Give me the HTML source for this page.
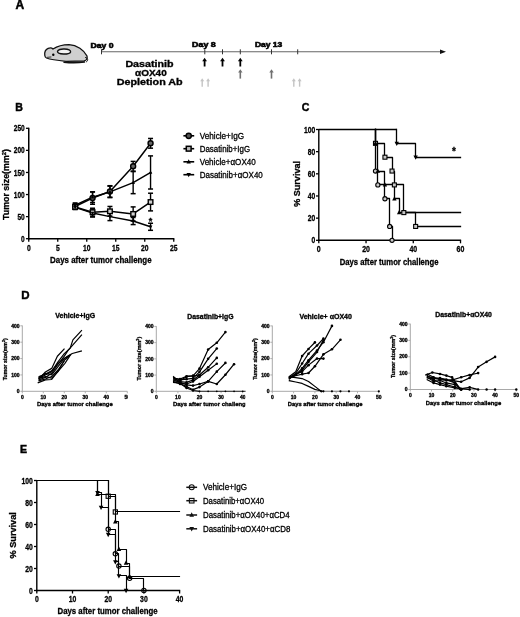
<!DOCTYPE html><html><head><meta charset="utf-8"><style>html,body{margin:0;padding:0;background:#fff;overflow:hidden;}svg{display:block;}text{font-family:"Liberation Sans", sans-serif;}</style></head><body>
<svg width="520" height="617" viewBox="0 0 520 617" style="filter:blur(0.3px)">
<rect width="520" height="617" fill="#fff"/>
<text x="15.6" y="9" font-size="12" font-weight="bold" text-anchor="start" fill="#000" stroke="#000" stroke-width="0.5">A</text>
<g stroke="#111" stroke-width="1.3" stroke-linejoin="round" stroke-linecap="round"><path d="M44.8,55.5 C44.3,52.5 45.8,49.6 48.2,48.4 C50.2,47.5 52,48 53,49 C57.5,46 63,44.6 69,44.6 C77,45 84,50 87,56 C87.6,58.5 86.5,60.5 84,61 L66,61.3 C58,60.5 50.5,59.5 46.5,58 C45.3,57.4 44.9,56.5 44.8,55.5 Z" fill="#cfcfcf"/><path d="M57.5,51.6 C57.5,49.6 61,48.8 64.5,49 C68.5,49.2 70.8,50.3 70.6,51.8 C70.4,53.3 67,54 63.5,54 C60,54 57.5,53.3 57.5,51.6 Z" fill="#f4f4f4" stroke-width="1.4"/><path d="M64,62.2 C71,62.9 78,62.9 84.5,62" fill="none" stroke-width="1.4"/><path d="M85.5,57.5 C88,57.8 88.6,60.5 86.5,61.8" fill="none" stroke-width="1"/><path d="M47.5,57.3 L51,57" fill="none" stroke-width="0.8"/></g>
<circle cx="53.3" cy="54.8" r="1.2" fill="#000"/>
<text x="90.6" y="47.7" font-size="6.4" font-weight="bold" textLength="23" lengthAdjust="spacingAndGlyphs" stroke="#000" stroke-width="0.5">Day 0</text>
<text x="192.1" y="47.4" font-size="6.4" font-weight="bold" textLength="23.7" lengthAdjust="spacingAndGlyphs" stroke="#000" stroke-width="0.5">Day 8</text>
<text x="254.9" y="47.4" font-size="6.4" font-weight="bold" textLength="27.4" lengthAdjust="spacingAndGlyphs" stroke="#000" stroke-width="0.5">Day 13</text>
<line x1="101.5" y1="51.8" x2="442" y2="51.8" stroke="#666" stroke-width="1.1"/>
<polygon points="446,51.8 440,49.6 440,54" fill="#111"/>
<line x1="101.5" y1="49.3" x2="101.5" y2="54.3" stroke="#333" stroke-width="1"/>
<line x1="204.8" y1="49.3" x2="204.8" y2="54.3" stroke="#333" stroke-width="1"/>
<line x1="222.5" y1="49.3" x2="222.5" y2="54.3" stroke="#333" stroke-width="1"/>
<line x1="240.3" y1="49.3" x2="240.3" y2="54.3" stroke="#333" stroke-width="1"/>
<line x1="271.5" y1="49.3" x2="271.5" y2="54.3" stroke="#333" stroke-width="1"/>
<line x1="297.7" y1="49.3" x2="297.7" y2="54.3" stroke="#333" stroke-width="1"/>
<line x1="204.6" y1="60.58" x2="204.6" y2="66.5" stroke="#000" stroke-width="1.8"/>
<polygon points="204.6,57.7 202.2,61.3 207,61.3" fill="#000"/>
<line x1="222.5" y1="60.58" x2="222.5" y2="66.5" stroke="#000" stroke-width="1.8"/>
<polygon points="222.5,57.7 220.1,61.3 224.9,61.3" fill="#000"/>
<line x1="240.3" y1="60.58" x2="240.3" y2="66.5" stroke="#000" stroke-width="1.8"/>
<polygon points="240.3,57.7 237.9,61.3 242.7,61.3" fill="#000"/>
<line x1="240.3" y1="71.94" x2="240.3" y2="78.6" stroke="#707070" stroke-width="1.6"/>
<polygon points="240.3,69.3 238.1,72.6 242.5,72.6" fill="#707070"/>
<line x1="271.5" y1="71.94" x2="271.5" y2="78.6" stroke="#707070" stroke-width="1.6"/>
<polygon points="271.5,69.3 269.3,72.6 273.7,72.6" fill="#707070"/>
<line x1="202.2" y1="80.6" x2="202.2" y2="86.7" stroke="#c4c4c4" stroke-width="1.4"/>
<polygon points="202.2,78.2 200.2,81.2 204.2,81.2" fill="#c4c4c4"/>
<line x1="208.1" y1="80.6" x2="208.1" y2="86.7" stroke="#c4c4c4" stroke-width="1.4"/>
<polygon points="208.1,78.2 206.1,81.2 210.1,81.2" fill="#c4c4c4"/>
<line x1="293.8" y1="80.6" x2="293.8" y2="86.7" stroke="#c4c4c4" stroke-width="1.4"/>
<polygon points="293.8,78.2 291.8,81.2 295.8,81.2" fill="#c4c4c4"/>
<line x1="299.6" y1="80.6" x2="299.6" y2="86.7" stroke="#c4c4c4" stroke-width="1.4"/>
<polygon points="299.6,78.2 297.6,81.2 301.6,81.2" fill="#c4c4c4"/>
<text x="125.4" y="66.9" font-size="8.5" font-weight="bold" text-anchor="start" fill="#000" textLength="48.1" lengthAdjust="spacingAndGlyphs" stroke="#000" stroke-width="0.3">Dasatinib</text>
<text x="135" y="76.3" font-size="8.5" font-weight="bold" text-anchor="start" fill="#000" textLength="31.7" lengthAdjust="spacingAndGlyphs" stroke="#000" stroke-width="0.3">αOX40</text>
<text x="116.7" y="84.6" font-size="8.5" font-weight="bold" text-anchor="start" fill="#000" textLength="66" lengthAdjust="spacingAndGlyphs" stroke="#000" stroke-width="0.3">Depletion Ab</text>
<text x="15.2" y="111.3" font-size="10.6" font-weight="bold" text-anchor="start" fill="#000" stroke="#000" stroke-width="0.45">B</text>
<line x1="28.75" y1="127.7" x2="28.75" y2="239.45" stroke="#000" stroke-width="1.5"/>
<line x1="28" y1="238.7" x2="174.35" y2="238.7" stroke="#000" stroke-width="1.5"/>
<line x1="25.95" y1="238.7" x2="28.75" y2="238.7" stroke="#000" stroke-width="1.3"/>
<text x="24.75" y="241.8" font-size="8.6" font-weight="bold" text-anchor="end" fill="#000" textLength="3.65" lengthAdjust="spacingAndGlyphs" stroke="#000" stroke-width="0.3">0</text>
<line x1="25.95" y1="216.62" x2="28.75" y2="216.62" stroke="#000" stroke-width="1.3"/>
<text x="24.75" y="219.72" font-size="8.6" font-weight="bold" text-anchor="end" fill="#000" textLength="7.3" lengthAdjust="spacingAndGlyphs" stroke="#000" stroke-width="0.3">50</text>
<line x1="25.95" y1="194.54" x2="28.75" y2="194.54" stroke="#000" stroke-width="1.3"/>
<text x="24.75" y="197.64" font-size="8.6" font-weight="bold" text-anchor="end" fill="#000" textLength="10.95" lengthAdjust="spacingAndGlyphs" stroke="#000" stroke-width="0.3">100</text>
<line x1="25.95" y1="172.46" x2="28.75" y2="172.46" stroke="#000" stroke-width="1.3"/>
<text x="24.75" y="175.56" font-size="8.6" font-weight="bold" text-anchor="end" fill="#000" textLength="10.95" lengthAdjust="spacingAndGlyphs" stroke="#000" stroke-width="0.3">150</text>
<line x1="25.95" y1="150.38" x2="28.75" y2="150.38" stroke="#000" stroke-width="1.3"/>
<text x="24.75" y="153.48" font-size="8.6" font-weight="bold" text-anchor="end" fill="#000" textLength="10.95" lengthAdjust="spacingAndGlyphs" stroke="#000" stroke-width="0.3">200</text>
<line x1="25.95" y1="128.3" x2="28.75" y2="128.3" stroke="#000" stroke-width="1.3"/>
<text x="24.75" y="131.4" font-size="8.6" font-weight="bold" text-anchor="end" fill="#000" textLength="10.95" lengthAdjust="spacingAndGlyphs" stroke="#000" stroke-width="0.3">250</text>
<line x1="28.75" y1="238.7" x2="28.75" y2="241.7" stroke="#000" stroke-width="1.3"/>
<text x="28.75" y="250.5" font-size="8.6" font-weight="bold" text-anchor="middle" fill="#000" textLength="3.75" lengthAdjust="spacingAndGlyphs" stroke="#000" stroke-width="0.3">0</text>
<line x1="57.75" y1="238.7" x2="57.75" y2="241.7" stroke="#000" stroke-width="1.3"/>
<text x="57.75" y="250.5" font-size="8.6" font-weight="bold" text-anchor="middle" fill="#000" textLength="3.75" lengthAdjust="spacingAndGlyphs" stroke="#000" stroke-width="0.3">5</text>
<line x1="86.75" y1="238.7" x2="86.75" y2="241.7" stroke="#000" stroke-width="1.3"/>
<text x="86.75" y="250.5" font-size="8.6" font-weight="bold" text-anchor="middle" fill="#000" textLength="7.5" lengthAdjust="spacingAndGlyphs" stroke="#000" stroke-width="0.3">10</text>
<line x1="115.75" y1="238.7" x2="115.75" y2="241.7" stroke="#000" stroke-width="1.3"/>
<text x="115.75" y="250.5" font-size="8.6" font-weight="bold" text-anchor="middle" fill="#000" textLength="7.5" lengthAdjust="spacingAndGlyphs" stroke="#000" stroke-width="0.3">15</text>
<line x1="144.75" y1="238.7" x2="144.75" y2="241.7" stroke="#000" stroke-width="1.3"/>
<text x="144.75" y="250.5" font-size="8.6" font-weight="bold" text-anchor="middle" fill="#000" textLength="7.5" lengthAdjust="spacingAndGlyphs" stroke="#000" stroke-width="0.3">20</text>
<line x1="173.75" y1="238.7" x2="173.75" y2="241.7" stroke="#000" stroke-width="1.3"/>
<text x="173.75" y="250.5" font-size="8.6" font-weight="bold" text-anchor="middle" fill="#000" textLength="7.5" lengthAdjust="spacingAndGlyphs" stroke="#000" stroke-width="0.3">25</text>
<text x="50.1" y="263" font-size="9.2" font-weight="bold" text-anchor="start" fill="#000" textLength="101.5" lengthAdjust="spacingAndGlyphs" stroke="#000" stroke-width="0.3">Days after tumor challenge</text>
<text transform="translate(8.6,184.5) rotate(-90)" font-size="8.4" font-weight="bold" text-anchor="middle" textLength="71" lengthAdjust="spacingAndGlyphs" stroke="#000" stroke-width="0.3">Tumor size(mm<tspan dy="-3" font-size="5.5">2</tspan><tspan dy="3">)</tspan></text>
<polyline points="75.15,206.46 92.55,198.07 109.95,191.45 133.15,166.28 150.55,143.31" fill="none" stroke="#000" stroke-width="1.5" stroke-linejoin="round" stroke-linecap="square"/>
<polyline points="75.15,206.9 92.55,212.2 109.95,211.32 133.15,213.97 150.55,202.05" fill="none" stroke="#000" stroke-width="1.5" stroke-linejoin="round" stroke-linecap="square"/>
<polyline points="75.15,205.14 92.55,197.19 109.95,191.89 133.15,182.62 150.55,172.46" fill="none" stroke="#000" stroke-width="1.5" stroke-linejoin="round" stroke-linecap="square"/>
<polyline points="75.15,207.35 92.55,213.09 109.95,216.62 133.15,221.04 150.55,226.78" fill="none" stroke="#000" stroke-width="1.5" stroke-linejoin="round" stroke-linecap="square"/>
<line x1="75.15" y1="203.81" x2="75.15" y2="209.11" stroke="#000" stroke-width="1.4"/>
<line x1="72.65" y1="203.81" x2="77.65" y2="203.81" stroke="#000" stroke-width="1.5"/>
<line x1="72.65" y1="209.11" x2="77.65" y2="209.11" stroke="#000" stroke-width="1.5"/>
<line x1="92.55" y1="191.89" x2="92.55" y2="204.26" stroke="#000" stroke-width="1.4"/>
<line x1="90.05" y1="191.89" x2="95.05" y2="191.89" stroke="#000" stroke-width="1.5"/>
<line x1="90.05" y1="204.26" x2="95.05" y2="204.26" stroke="#000" stroke-width="1.5"/>
<line x1="109.95" y1="185.71" x2="109.95" y2="197.19" stroke="#000" stroke-width="1.4"/>
<line x1="107.45" y1="185.71" x2="112.45" y2="185.71" stroke="#000" stroke-width="1.5"/>
<line x1="107.45" y1="197.19" x2="112.45" y2="197.19" stroke="#000" stroke-width="1.5"/>
<line x1="133.15" y1="161.42" x2="133.15" y2="171.14" stroke="#000" stroke-width="1.4"/>
<line x1="130.65" y1="161.42" x2="135.65" y2="161.42" stroke="#000" stroke-width="1.5"/>
<line x1="130.65" y1="171.14" x2="135.65" y2="171.14" stroke="#000" stroke-width="1.5"/>
<line x1="150.55" y1="138.46" x2="150.55" y2="148.17" stroke="#000" stroke-width="1.4"/>
<line x1="148.05" y1="138.46" x2="153.05" y2="138.46" stroke="#000" stroke-width="1.5"/>
<line x1="148.05" y1="148.17" x2="153.05" y2="148.17" stroke="#000" stroke-width="1.5"/>
<line x1="75.15" y1="204.7" x2="75.15" y2="209.11" stroke="#000" stroke-width="1.4"/>
<line x1="72.65" y1="204.7" x2="77.65" y2="204.7" stroke="#000" stroke-width="1.5"/>
<line x1="72.65" y1="209.11" x2="77.65" y2="209.11" stroke="#000" stroke-width="1.5"/>
<line x1="92.55" y1="208.23" x2="92.55" y2="216.18" stroke="#000" stroke-width="1.4"/>
<line x1="90.05" y1="208.23" x2="95.05" y2="208.23" stroke="#000" stroke-width="1.5"/>
<line x1="90.05" y1="216.18" x2="95.05" y2="216.18" stroke="#000" stroke-width="1.5"/>
<line x1="109.95" y1="206.46" x2="109.95" y2="216.18" stroke="#000" stroke-width="1.4"/>
<line x1="107.45" y1="206.46" x2="112.45" y2="206.46" stroke="#000" stroke-width="1.5"/>
<line x1="107.45" y1="216.18" x2="112.45" y2="216.18" stroke="#000" stroke-width="1.5"/>
<line x1="133.15" y1="206.9" x2="133.15" y2="221.04" stroke="#000" stroke-width="1.4"/>
<line x1="130.65" y1="206.9" x2="135.65" y2="206.9" stroke="#000" stroke-width="1.5"/>
<line x1="130.65" y1="221.04" x2="135.65" y2="221.04" stroke="#000" stroke-width="1.5"/>
<line x1="150.55" y1="193.22" x2="150.55" y2="210.88" stroke="#000" stroke-width="1.4"/>
<line x1="148.05" y1="193.22" x2="153.05" y2="193.22" stroke="#000" stroke-width="1.5"/>
<line x1="148.05" y1="210.88" x2="153.05" y2="210.88" stroke="#000" stroke-width="1.5"/>
<line x1="75.15" y1="202.93" x2="75.15" y2="207.35" stroke="#000" stroke-width="1.4"/>
<line x1="72.65" y1="202.93" x2="77.65" y2="202.93" stroke="#000" stroke-width="1.5"/>
<line x1="72.65" y1="207.35" x2="77.65" y2="207.35" stroke="#000" stroke-width="1.5"/>
<line x1="92.55" y1="191.89" x2="92.55" y2="202.49" stroke="#000" stroke-width="1.4"/>
<line x1="90.05" y1="191.89" x2="95.05" y2="191.89" stroke="#000" stroke-width="1.5"/>
<line x1="90.05" y1="202.49" x2="95.05" y2="202.49" stroke="#000" stroke-width="1.5"/>
<line x1="109.95" y1="186.15" x2="109.95" y2="197.63" stroke="#000" stroke-width="1.4"/>
<line x1="107.45" y1="186.15" x2="112.45" y2="186.15" stroke="#000" stroke-width="1.5"/>
<line x1="107.45" y1="197.63" x2="112.45" y2="197.63" stroke="#000" stroke-width="1.5"/>
<line x1="133.15" y1="171.58" x2="133.15" y2="193.66" stroke="#000" stroke-width="1.4"/>
<line x1="130.65" y1="171.58" x2="135.65" y2="171.58" stroke="#000" stroke-width="1.5"/>
<line x1="130.65" y1="193.66" x2="135.65" y2="193.66" stroke="#000" stroke-width="1.5"/>
<line x1="150.55" y1="155.9" x2="150.55" y2="189.02" stroke="#000" stroke-width="1.4"/>
<line x1="148.05" y1="155.9" x2="153.05" y2="155.9" stroke="#000" stroke-width="1.5"/>
<line x1="148.05" y1="189.02" x2="153.05" y2="189.02" stroke="#000" stroke-width="1.5"/>
<line x1="75.15" y1="205.14" x2="75.15" y2="209.55" stroke="#000" stroke-width="1.4"/>
<line x1="72.65" y1="205.14" x2="77.65" y2="205.14" stroke="#000" stroke-width="1.5"/>
<line x1="72.65" y1="209.55" x2="77.65" y2="209.55" stroke="#000" stroke-width="1.5"/>
<line x1="92.55" y1="209.11" x2="92.55" y2="217.06" stroke="#000" stroke-width="1.4"/>
<line x1="90.05" y1="209.11" x2="95.05" y2="209.11" stroke="#000" stroke-width="1.5"/>
<line x1="90.05" y1="217.06" x2="95.05" y2="217.06" stroke="#000" stroke-width="1.5"/>
<line x1="109.95" y1="212.65" x2="109.95" y2="220.59" stroke="#000" stroke-width="1.4"/>
<line x1="107.45" y1="212.65" x2="112.45" y2="212.65" stroke="#000" stroke-width="1.5"/>
<line x1="107.45" y1="220.59" x2="112.45" y2="220.59" stroke="#000" stroke-width="1.5"/>
<line x1="133.15" y1="217.5" x2="133.15" y2="224.57" stroke="#000" stroke-width="1.4"/>
<line x1="130.65" y1="217.5" x2="135.65" y2="217.5" stroke="#000" stroke-width="1.5"/>
<line x1="130.65" y1="224.57" x2="135.65" y2="224.57" stroke="#000" stroke-width="1.5"/>
<line x1="150.55" y1="223.24" x2="150.55" y2="230.31" stroke="#000" stroke-width="1.4"/>
<line x1="148.05" y1="223.24" x2="153.05" y2="223.24" stroke="#000" stroke-width="1.5"/>
<line x1="148.05" y1="230.31" x2="153.05" y2="230.31" stroke="#000" stroke-width="1.5"/>
<circle cx="75.15" cy="206.46" r="2.5" fill="#666" stroke="#000" stroke-width="1.4"/>
<circle cx="92.55" cy="198.07" r="2.5" fill="#666" stroke="#000" stroke-width="1.4"/>
<circle cx="109.95" cy="191.45" r="2.5" fill="#666" stroke="#000" stroke-width="1.4"/>
<circle cx="133.15" cy="166.28" r="2.5" fill="#666" stroke="#000" stroke-width="1.4"/>
<circle cx="150.55" cy="143.31" r="2.5" fill="#666" stroke="#000" stroke-width="1.4"/>
<rect x="72.85" y="204.6" width="4.6" height="4.6" fill="#d0d0d0" stroke="#000" stroke-width="1.4"/>
<rect x="90.25" y="209.9" width="4.6" height="4.6" fill="#d0d0d0" stroke="#000" stroke-width="1.4"/>
<rect x="107.65" y="209.02" width="4.6" height="4.6" fill="#d0d0d0" stroke="#000" stroke-width="1.4"/>
<rect x="130.85" y="211.67" width="4.6" height="4.6" fill="#d0d0d0" stroke="#000" stroke-width="1.4"/>
<rect x="148.25" y="199.75" width="4.6" height="4.6" fill="#d0d0d0" stroke="#000" stroke-width="1.4"/>
<polygon points="75.15,203.07 76.95,206.49 73.35,206.49" fill="#000"/>
<polygon points="92.55,195.12 94.35,198.54 90.75,198.54" fill="#000"/>
<polygon points="109.95,189.82 111.75,193.24 108.15,193.24" fill="#000"/>
<polygon points="133.15,180.55 134.95,183.97 131.35,183.97" fill="#000"/>
<polygon points="150.55,170.39 152.35,173.81 148.75,173.81" fill="#000"/>
<polygon points="75.15,209.42 76.95,206 73.35,206" fill="#000"/>
<polygon points="92.55,215.16 94.35,211.74 90.75,211.74" fill="#000"/>
<polygon points="109.95,218.69 111.75,215.27 108.15,215.27" fill="#000"/>
<polygon points="133.15,223.11 134.95,219.69 131.35,219.69" fill="#000"/>
<polygon points="150.55,228.85 152.35,225.43 148.75,225.43" fill="#000"/>
<text x="150.55" y="223.5" font-size="9" font-weight="bold" text-anchor="middle" fill="#000" stroke="#000" stroke-width="0.3">*</text>
<line x1="183.4" y1="135.8" x2="194.2" y2="135.8" stroke="#000" stroke-width="1.6"/>
<circle cx="188.7" cy="135.8" r="2.6" fill="#555" stroke="#000" stroke-width="1.5"/>
<text x="199.7" y="138.6" font-size="8.8" font-weight="normal" text-anchor="start" fill="#000" textLength="44.4" lengthAdjust="spacingAndGlyphs" stroke="#000" stroke-width="0.3">Vehicle+IgG</text>
<line x1="183.4" y1="148.7" x2="194.2" y2="148.7" stroke="#000" stroke-width="1.6"/>
<rect x="186.3" y="146.3" width="4.8" height="4.8" fill="#bbb" stroke="#000" stroke-width="1.5"/>
<text x="199.7" y="151.5" font-size="8.8" font-weight="normal" text-anchor="start" fill="#000" textLength="50.4" lengthAdjust="spacingAndGlyphs" stroke="#000" stroke-width="0.3">Dasatinib+IgG</text>
<line x1="183.4" y1="161.8" x2="194.2" y2="161.8" stroke="#000" stroke-width="1.6"/>
<polygon points="188.7,159.27 190.9,163.45 186.5,163.45" fill="#000"/>
<text x="199.7" y="164.6" font-size="8.8" font-weight="normal" text-anchor="start" fill="#000" textLength="56.1" lengthAdjust="spacingAndGlyphs" stroke="#000" stroke-width="0.3">Vehicle+αOX40</text>
<line x1="183.4" y1="174.7" x2="194.2" y2="174.7" stroke="#000" stroke-width="1.6"/>
<polygon points="188.7,177.23 190.9,173.05 186.5,173.05" fill="#000"/>
<text x="199.7" y="177.5" font-size="8.8" font-weight="normal" text-anchor="start" fill="#000" textLength="63.1" lengthAdjust="spacingAndGlyphs" stroke="#000" stroke-width="0.3">Dasatinib+αOX40</text>
<text x="301.8" y="111.3" font-size="10.6" font-weight="bold" text-anchor="start" fill="#000" stroke="#000" stroke-width="0.45">C</text>
<line x1="318.8" y1="128.9" x2="318.8" y2="241.05" stroke="#000" stroke-width="1.4"/>
<line x1="318.05" y1="240.3" x2="461.12" y2="240.3" stroke="#000" stroke-width="1.4"/>
<line x1="316" y1="240.3" x2="318.8" y2="240.3" stroke="#000" stroke-width="1.3"/>
<text x="315.2" y="243.4" font-size="8.6" font-weight="bold" text-anchor="end" fill="#000" textLength="3.75" lengthAdjust="spacingAndGlyphs" stroke="#000" stroke-width="0.3">0</text>
<line x1="316" y1="218.14" x2="318.8" y2="218.14" stroke="#000" stroke-width="1.3"/>
<text x="315.2" y="221.24" font-size="8.6" font-weight="bold" text-anchor="end" fill="#000" textLength="7.5" lengthAdjust="spacingAndGlyphs" stroke="#000" stroke-width="0.3">20</text>
<line x1="316" y1="195.98" x2="318.8" y2="195.98" stroke="#000" stroke-width="1.3"/>
<text x="315.2" y="199.08" font-size="8.6" font-weight="bold" text-anchor="end" fill="#000" textLength="7.5" lengthAdjust="spacingAndGlyphs" stroke="#000" stroke-width="0.3">40</text>
<line x1="316" y1="173.82" x2="318.8" y2="173.82" stroke="#000" stroke-width="1.3"/>
<text x="315.2" y="176.92" font-size="8.6" font-weight="bold" text-anchor="end" fill="#000" textLength="7.5" lengthAdjust="spacingAndGlyphs" stroke="#000" stroke-width="0.3">60</text>
<line x1="316" y1="151.66" x2="318.8" y2="151.66" stroke="#000" stroke-width="1.3"/>
<text x="315.2" y="154.76" font-size="8.6" font-weight="bold" text-anchor="end" fill="#000" textLength="7.5" lengthAdjust="spacingAndGlyphs" stroke="#000" stroke-width="0.3">80</text>
<line x1="316" y1="129.5" x2="318.8" y2="129.5" stroke="#000" stroke-width="1.3"/>
<text x="315.2" y="132.6" font-size="8.6" font-weight="bold" text-anchor="end" fill="#000" textLength="11.25" lengthAdjust="spacingAndGlyphs" stroke="#000" stroke-width="0.3">100</text>
<line x1="318.8" y1="240.3" x2="318.8" y2="243.3" stroke="#000" stroke-width="1.3"/>
<text x="318.8" y="252.1" font-size="8.6" font-weight="bold" text-anchor="middle" fill="#000" textLength="3.9" lengthAdjust="spacingAndGlyphs" stroke="#000" stroke-width="0.3">0</text>
<line x1="366.04" y1="240.3" x2="366.04" y2="243.3" stroke="#000" stroke-width="1.3"/>
<text x="366.04" y="252.1" font-size="8.6" font-weight="bold" text-anchor="middle" fill="#000" textLength="7.8" lengthAdjust="spacingAndGlyphs" stroke="#000" stroke-width="0.3">20</text>
<line x1="413.28" y1="240.3" x2="413.28" y2="243.3" stroke="#000" stroke-width="1.3"/>
<text x="413.28" y="252.1" font-size="8.6" font-weight="bold" text-anchor="middle" fill="#000" textLength="7.8" lengthAdjust="spacingAndGlyphs" stroke="#000" stroke-width="0.3">40</text>
<line x1="460.52" y1="240.3" x2="460.52" y2="243.3" stroke="#000" stroke-width="1.3"/>
<text x="460.52" y="252.1" font-size="8.6" font-weight="bold" text-anchor="middle" fill="#000" textLength="7.8" lengthAdjust="spacingAndGlyphs" stroke="#000" stroke-width="0.3">60</text>
<text x="339.7" y="264.9" font-size="9.2" font-weight="bold" text-anchor="start" fill="#000" textLength="98.8" lengthAdjust="spacingAndGlyphs" stroke="#000" stroke-width="0.3">Days after tumor challenge</text>
<text transform="translate(299.6,183.9) rotate(-90)" font-size="8.2" font-weight="bold" text-anchor="middle" textLength="45.7" lengthAdjust="spacingAndGlyphs" stroke="#000" stroke-width="0.3">% Survival</text>
<line x1="318.8" y1="129.5" x2="396.5" y2="129.5" stroke="#000" stroke-width="1.3"/>
<polyline points="375.5,129.5 375.5,129.5 375.5,171.5 377.5,171.5 377.5,184.5 384.5,184.5 384.5,198.5 389.5,198.5 389.5,226.5 392.5,226.5 392.5,240.5" fill="none" stroke="#000" stroke-width="1.3" stroke-linejoin="round" stroke-linecap="square"/>
<polyline points="375.5,129.5 375.5,129.5 375.5,143.5 384.5,143.5 384.5,157.5 392.5,157.5 392.5,171.5 394.5,171.5 394.5,184.5 403.5,184.5 403.5,212.5 415.5,212.5 415.5,226.5 460.5,226.5" fill="none" stroke="#000" stroke-width="1.3" stroke-linejoin="round" stroke-linecap="square"/>
<polyline points="375.5,129.5 375.5,129.5 375.5,143.5 377.5,143.5 377.5,171.5 384.5,171.5 384.5,184.5 394.5,184.5 394.5,198.5 399.5,198.5 399.5,212.5 460.5,212.5" fill="none" stroke="#000" stroke-width="1.3" stroke-linejoin="round" stroke-linecap="square"/>
<polyline points="396.5,129.5 396.5,129.5 396.5,143.5 415.5,143.5 415.5,157.5 460.5,157.5" fill="none" stroke="#000" stroke-width="1.3" stroke-linejoin="round" stroke-linecap="square"/>
<circle cx="375.49" cy="171.05" r="2.1" fill="#c8c8c8" stroke="#000" stroke-width="1.1"/>
<circle cx="377.85" cy="184.9" r="2.1" fill="#c8c8c8" stroke="#000" stroke-width="1.1"/>
<circle cx="384.94" cy="198.75" r="2.1" fill="#c8c8c8" stroke="#000" stroke-width="1.1"/>
<circle cx="389.66" cy="226.45" r="2.1" fill="#c8c8c8" stroke="#000" stroke-width="1.1"/>
<circle cx="392.02" cy="240.3" r="2.1" fill="#c8c8c8" stroke="#000" stroke-width="1.1"/>
<rect x="373.49" y="141.35" width="4" height="4" fill="#c8c8c8" stroke="#000" stroke-width="1.1"/>
<rect x="382.94" y="155.2" width="4" height="4" fill="#c8c8c8" stroke="#000" stroke-width="1.1"/>
<rect x="390.02" y="169.05" width="4" height="4" fill="#c8c8c8" stroke="#000" stroke-width="1.1"/>
<rect x="392.38" y="182.9" width="4" height="4" fill="#c8c8c8" stroke="#000" stroke-width="1.1"/>
<rect x="401.83" y="210.6" width="4" height="4" fill="#c8c8c8" stroke="#000" stroke-width="1.1"/>
<rect x="413.64" y="224.45" width="4" height="4" fill="#c8c8c8" stroke="#000" stroke-width="1.1"/>
<polygon points="375.49,140.82 377.69,145 373.29,145" fill="#000"/>
<polygon points="377.85,168.52 380.05,172.7 375.65,172.7" fill="#000"/>
<polygon points="384.94,182.37 387.14,186.55 382.74,186.55" fill="#000"/>
<polygon points="394.38,196.22 396.58,200.4 392.18,200.4" fill="#000"/>
<polygon points="399.11,210.07 401.31,214.25 396.91,214.25" fill="#000"/>
<polygon points="396.75,145.88 398.95,141.7 394.55,141.7" fill="#000"/>
<polygon points="415.64,159.73 417.84,155.55 413.44,155.55" fill="#000"/>
<text x="454" y="154.6" font-size="10" font-weight="bold" text-anchor="middle" fill="#000" stroke="#000" stroke-width="0.3">*</text>
<text x="21.3" y="299.4" font-size="11.5" font-weight="bold" text-anchor="start" fill="#000" stroke="#000" stroke-width="0.45">D</text>
<defs><clipPath id="c1"><rect x="0" y="300" width="128.0" height="120"/></clipPath><clipPath id="c2"><rect x="129" y="300" width="116.5" height="120"/></clipPath></defs>
<g clip-path="url(#c1)">
<line x1="22.3" y1="325.5" x2="22.3" y2="391.8" stroke="#a8a8a8" stroke-width="1"/>
<line x1="21.8" y1="391.3" x2="127.3" y2="391.3" stroke="#a8a8a8" stroke-width="1"/>
<line x1="20.3" y1="391.3" x2="22.3" y2="391.3" stroke="#a8a8a8" stroke-width="0.9"/>
<text x="19.6" y="393" font-size="4.8" font-weight="bold" text-anchor="end" fill="#000" textLength="2.8" lengthAdjust="spacingAndGlyphs" stroke="#000" stroke-width="0.3">0</text>
<line x1="20.3" y1="374.93" x2="22.3" y2="374.93" stroke="#a8a8a8" stroke-width="0.9"/>
<text x="19.6" y="376.62" font-size="4.8" font-weight="bold" text-anchor="end" fill="#000" textLength="8.4" lengthAdjust="spacingAndGlyphs" stroke="#000" stroke-width="0.3">100</text>
<line x1="20.3" y1="358.55" x2="22.3" y2="358.55" stroke="#a8a8a8" stroke-width="0.9"/>
<text x="19.6" y="360.25" font-size="4.8" font-weight="bold" text-anchor="end" fill="#000" textLength="8.4" lengthAdjust="spacingAndGlyphs" stroke="#000" stroke-width="0.3">200</text>
<line x1="20.3" y1="342.18" x2="22.3" y2="342.18" stroke="#a8a8a8" stroke-width="0.9"/>
<text x="19.6" y="343.88" font-size="4.8" font-weight="bold" text-anchor="end" fill="#000" textLength="8.4" lengthAdjust="spacingAndGlyphs" stroke="#000" stroke-width="0.3">300</text>
<line x1="20.3" y1="325.8" x2="22.3" y2="325.8" stroke="#a8a8a8" stroke-width="0.9"/>
<text x="19.6" y="327.5" font-size="4.8" font-weight="bold" text-anchor="end" fill="#000" textLength="8.4" lengthAdjust="spacingAndGlyphs" stroke="#000" stroke-width="0.3">400</text>
<line x1="22.3" y1="391.3" x2="22.3" y2="393.3" stroke="#a8a8a8" stroke-width="0.9"/>
<text x="22.3" y="398.6" font-size="4.8" font-weight="bold" text-anchor="middle" fill="#000" textLength="2.8" lengthAdjust="spacingAndGlyphs" stroke="#000" stroke-width="0.3">0</text>
<line x1="43.3" y1="391.3" x2="43.3" y2="393.3" stroke="#a8a8a8" stroke-width="0.9"/>
<text x="43.3" y="398.6" font-size="4.8" font-weight="bold" text-anchor="middle" fill="#000" textLength="5.6" lengthAdjust="spacingAndGlyphs" stroke="#000" stroke-width="0.3">10</text>
<line x1="64.3" y1="391.3" x2="64.3" y2="393.3" stroke="#a8a8a8" stroke-width="0.9"/>
<text x="64.3" y="398.6" font-size="4.8" font-weight="bold" text-anchor="middle" fill="#000" textLength="5.6" lengthAdjust="spacingAndGlyphs" stroke="#000" stroke-width="0.3">20</text>
<line x1="85.3" y1="391.3" x2="85.3" y2="393.3" stroke="#a8a8a8" stroke-width="0.9"/>
<text x="85.3" y="398.6" font-size="4.8" font-weight="bold" text-anchor="middle" fill="#000" textLength="5.6" lengthAdjust="spacingAndGlyphs" stroke="#000" stroke-width="0.3">30</text>
<line x1="106.3" y1="391.3" x2="106.3" y2="393.3" stroke="#a8a8a8" stroke-width="0.9"/>
<text x="106.3" y="398.6" font-size="4.8" font-weight="bold" text-anchor="middle" fill="#000" textLength="5.6" lengthAdjust="spacingAndGlyphs" stroke="#000" stroke-width="0.3">40</text>
<line x1="127.3" y1="391.3" x2="127.3" y2="393.3" stroke="#a8a8a8" stroke-width="0.9"/>
<text x="127.3" y="398.6" font-size="4.8" font-weight="bold" text-anchor="middle" fill="#000" textLength="5.6" lengthAdjust="spacingAndGlyphs" stroke="#000" stroke-width="0.3">50</text>
<text x="37" y="406.3" font-size="5.8" font-weight="bold" text-anchor="start" fill="#000" textLength="75.7" lengthAdjust="spacingAndGlyphs" stroke="#000" stroke-width="0.3">Days after tumor challenge</text>
<text transform="translate(6.6,359.3) rotate(-90)" font-size="5.6" font-weight="bold" text-anchor="middle" textLength="42" lengthAdjust="spacingAndGlyphs" stroke="#000" stroke-width="0.3">Tumor size(mm<tspan dy="-2" font-size="3.8">2</tspan><tspan dy="2">)</tspan></text>
<text x="55.3" y="318.4" font-size="6.5" font-weight="bold" text-anchor="start" fill="#000" textLength="39.9" lengthAdjust="spacingAndGlyphs" stroke="#000" stroke-width="0.3">Vehicle+IgG</text>
<polyline points="39.1,378.2 45.4,374.93 51.7,371.65 58,361.82 64.3,353.64 70.18,348.07 72.91,339.88 81.52,330.55" fill="none" stroke="#000" stroke-width="1.2" stroke-linejoin="round" stroke-linecap="square"/>
<polyline points="39.1,379.84 45.4,377.38 51.7,373.29 58,364.28 64.3,356.09 67.87,350.69 81.52,335.13" fill="none" stroke="#000" stroke-width="1.2" stroke-linejoin="round" stroke-linecap="square"/>
<polyline points="39.1,376.56 45.4,374.11 51.7,370.83 58,363.46 64.3,358.55 68.71,355.44 72.28,353.47 81.31,351.02" fill="none" stroke="#000" stroke-width="1.2" stroke-linejoin="round" stroke-linecap="square"/>
<polyline points="39.1,379.02 45.4,371.98 51.7,368.38 57.37,356.26 64.09,349.05" fill="none" stroke="#000" stroke-width="1.2" stroke-linejoin="round" stroke-linecap="square"/>
<polyline points="39.1,377.38 45.4,373.29 51.7,374.93 58,366.74 64.3,358.55 70.6,354.78" fill="none" stroke="#000" stroke-width="1.2" stroke-linejoin="round" stroke-linecap="square"/>
<polyline points="38.26,382.62 45.4,379.84 51.7,379.51 56.32,373.45 64.93,363.3 70.6,354.78" fill="none" stroke="#000" stroke-width="1.2" stroke-linejoin="round" stroke-linecap="square"/>
<polyline points="39.1,380.66 45.4,379.02 51.7,376.56 58,370.01 64.3,361.01" fill="none" stroke="#000" stroke-width="1.2" stroke-linejoin="round" stroke-linecap="square"/>
<polyline points="39.1,378.2 45.4,376.56 51.7,378.2 58,371.65 64.3,360.19 68.5,356.91" fill="none" stroke="#000" stroke-width="1.2" stroke-linejoin="round" stroke-linecap="square"/>
</g><g clip-path="url(#c2)">
<line x1="156.3" y1="326.1" x2="156.3" y2="391.8" stroke="#a8a8a8" stroke-width="1"/>
<line x1="155.8" y1="391.3" x2="264.3" y2="391.3" stroke="#a8a8a8" stroke-width="1"/>
<line x1="154.3" y1="391.3" x2="156.3" y2="391.3" stroke="#a8a8a8" stroke-width="0.9"/>
<text x="153.6" y="393" font-size="4.8" font-weight="bold" text-anchor="end" fill="#000" textLength="2.8" lengthAdjust="spacingAndGlyphs" stroke="#000" stroke-width="0.3">0</text>
<line x1="154.3" y1="375.07" x2="156.3" y2="375.07" stroke="#a8a8a8" stroke-width="0.9"/>
<text x="153.6" y="376.77" font-size="4.8" font-weight="bold" text-anchor="end" fill="#000" textLength="8.4" lengthAdjust="spacingAndGlyphs" stroke="#000" stroke-width="0.3">100</text>
<line x1="154.3" y1="358.85" x2="156.3" y2="358.85" stroke="#a8a8a8" stroke-width="0.9"/>
<text x="153.6" y="360.55" font-size="4.8" font-weight="bold" text-anchor="end" fill="#000" textLength="8.4" lengthAdjust="spacingAndGlyphs" stroke="#000" stroke-width="0.3">200</text>
<line x1="154.3" y1="342.62" x2="156.3" y2="342.62" stroke="#a8a8a8" stroke-width="0.9"/>
<text x="153.6" y="344.32" font-size="4.8" font-weight="bold" text-anchor="end" fill="#000" textLength="8.4" lengthAdjust="spacingAndGlyphs" stroke="#000" stroke-width="0.3">300</text>
<line x1="154.3" y1="326.4" x2="156.3" y2="326.4" stroke="#a8a8a8" stroke-width="0.9"/>
<text x="153.6" y="328.1" font-size="4.8" font-weight="bold" text-anchor="end" fill="#000" textLength="8.4" lengthAdjust="spacingAndGlyphs" stroke="#000" stroke-width="0.3">400</text>
<line x1="156.3" y1="391.3" x2="156.3" y2="393.3" stroke="#a8a8a8" stroke-width="0.9"/>
<text x="156.3" y="398.6" font-size="4.8" font-weight="bold" text-anchor="middle" fill="#000" textLength="2.8" lengthAdjust="spacingAndGlyphs" stroke="#000" stroke-width="0.3">0</text>
<line x1="177.9" y1="391.3" x2="177.9" y2="393.3" stroke="#a8a8a8" stroke-width="0.9"/>
<text x="177.9" y="398.6" font-size="4.8" font-weight="bold" text-anchor="middle" fill="#000" textLength="5.6" lengthAdjust="spacingAndGlyphs" stroke="#000" stroke-width="0.3">10</text>
<line x1="199.5" y1="391.3" x2="199.5" y2="393.3" stroke="#a8a8a8" stroke-width="0.9"/>
<text x="199.5" y="398.6" font-size="4.8" font-weight="bold" text-anchor="middle" fill="#000" textLength="5.6" lengthAdjust="spacingAndGlyphs" stroke="#000" stroke-width="0.3">20</text>
<line x1="221.1" y1="391.3" x2="221.1" y2="393.3" stroke="#a8a8a8" stroke-width="0.9"/>
<text x="221.1" y="398.6" font-size="4.8" font-weight="bold" text-anchor="middle" fill="#000" textLength="5.6" lengthAdjust="spacingAndGlyphs" stroke="#000" stroke-width="0.3">30</text>
<line x1="242.7" y1="391.3" x2="242.7" y2="393.3" stroke="#a8a8a8" stroke-width="0.9"/>
<text x="242.7" y="398.6" font-size="4.8" font-weight="bold" text-anchor="middle" fill="#000" textLength="5.6" lengthAdjust="spacingAndGlyphs" stroke="#000" stroke-width="0.3">40</text>
<line x1="264.3" y1="391.3" x2="264.3" y2="393.3" stroke="#a8a8a8" stroke-width="0.9"/>
<text x="264.3" y="398.6" font-size="4.8" font-weight="bold" text-anchor="middle" fill="#000" textLength="5.6" lengthAdjust="spacingAndGlyphs" stroke="#000" stroke-width="0.3">50</text>
<text x="173" y="406.3" font-size="5.8" font-weight="bold" text-anchor="start" fill="#000" textLength="76" lengthAdjust="spacingAndGlyphs" stroke="#000" stroke-width="0.3">Days after tumor challenge</text>
<text transform="translate(141.3,358.6) rotate(-90)" font-size="5.6" font-weight="bold" text-anchor="middle" textLength="43.7" lengthAdjust="spacingAndGlyphs" stroke="#000" stroke-width="0.3">Tumor size(mm<tspan dy="-2" font-size="3.8">2</tspan><tspan dy="2">)</tspan></text>
<text x="187.3" y="318.5" font-size="6.5" font-weight="bold" text-anchor="start" fill="#000" textLength="46.2" lengthAdjust="spacingAndGlyphs" stroke="#000" stroke-width="0.3">Dasatinib+IgG</text>
<polyline points="173.58,379.13 180.06,380.75 186.54,376.7 193.02,375.89 199.5,368.58 208.14,349.44 216.78,342.79 225.42,332.08" fill="none" stroke="#000" stroke-width="1.2" stroke-linejoin="round" stroke-linecap="square"/>
<circle cx="180.06" cy="380.75" r="1.3" fill="#000"/>
<circle cx="186.54" cy="376.7" r="1.3" fill="#000"/>
<circle cx="193.02" cy="375.89" r="1.3" fill="#000"/>
<circle cx="199.5" cy="368.58" r="1.3" fill="#000"/>
<circle cx="208.14" cy="349.44" r="1.3" fill="#000"/>
<circle cx="216.78" cy="342.79" r="1.3" fill="#000"/>
<circle cx="225.42" cy="332.08" r="1.3" fill="#000"/>
<polyline points="173.58,377.51 180.06,379.94 186.54,379.13 193.02,378.32 199.5,371.83 208.14,358.85 216.78,348.47" fill="none" stroke="#000" stroke-width="1.2" stroke-linejoin="round" stroke-linecap="square"/>
<circle cx="180.06" cy="379.94" r="1.3" fill="#000"/>
<circle cx="186.54" cy="379.13" r="1.3" fill="#000"/>
<circle cx="193.02" cy="378.32" r="1.3" fill="#000"/>
<circle cx="199.5" cy="371.83" r="1.3" fill="#000"/>
<circle cx="208.14" cy="358.85" r="1.3" fill="#000"/>
<circle cx="216.78" cy="348.47" r="1.3" fill="#000"/>
<polyline points="173.58,380.75 180.06,381.56 186.54,382.38 193.02,379.94 199.5,375.07 208.14,367.29 216.78,357.88" fill="none" stroke="#000" stroke-width="1.2" stroke-linejoin="round" stroke-linecap="square"/>
<circle cx="180.06" cy="381.56" r="1.3" fill="#000"/>
<circle cx="186.54" cy="382.38" r="1.3" fill="#000"/>
<circle cx="193.02" cy="379.94" r="1.3" fill="#000"/>
<circle cx="199.5" cy="375.07" r="1.3" fill="#000"/>
<circle cx="208.14" cy="367.29" r="1.3" fill="#000"/>
<circle cx="216.78" cy="357.88" r="1.3" fill="#000"/>
<polyline points="173.58,382.38 180.06,383.19 186.54,384 193.02,381.56 199.5,376.7 208.14,370.21 216.78,363.72" fill="none" stroke="#000" stroke-width="1.2" stroke-linejoin="round" stroke-linecap="square"/>
<circle cx="180.06" cy="383.19" r="1.3" fill="#000"/>
<circle cx="186.54" cy="384" r="1.3" fill="#000"/>
<circle cx="193.02" cy="381.56" r="1.3" fill="#000"/>
<circle cx="199.5" cy="376.7" r="1.3" fill="#000"/>
<circle cx="208.14" cy="370.21" r="1.3" fill="#000"/>
<circle cx="216.78" cy="363.72" r="1.3" fill="#000"/>
<polyline points="173.58,381.56 180.06,384 186.54,386.43 193.02,389.68 199.5,387.08 208.14,381.4 216.78,371.67 225.42,362.91" fill="none" stroke="#000" stroke-width="1.2" stroke-linejoin="round" stroke-linecap="square"/>
<circle cx="180.06" cy="384" r="1.3" fill="#000"/>
<circle cx="186.54" cy="386.43" r="1.3" fill="#000"/>
<circle cx="193.02" cy="389.68" r="1.3" fill="#000"/>
<circle cx="199.5" cy="387.08" r="1.3" fill="#000"/>
<circle cx="208.14" cy="381.4" r="1.3" fill="#000"/>
<circle cx="216.78" cy="371.67" r="1.3" fill="#000"/>
<circle cx="225.42" cy="362.91" r="1.3" fill="#000"/>
<polyline points="173.58,379.94 180.06,382.38 186.54,384.81 193.02,385.62 199.5,384 208.14,381.4 216.78,384 225.42,374.75 234.06,364.2" fill="none" stroke="#000" stroke-width="1.2" stroke-linejoin="round" stroke-linecap="square"/>
<circle cx="180.06" cy="382.38" r="1.3" fill="#000"/>
<circle cx="186.54" cy="384.81" r="1.3" fill="#000"/>
<circle cx="193.02" cy="385.62" r="1.3" fill="#000"/>
<circle cx="199.5" cy="384" r="1.3" fill="#000"/>
<circle cx="208.14" cy="381.4" r="1.3" fill="#000"/>
<circle cx="216.78" cy="384" r="1.3" fill="#000"/>
<circle cx="225.42" cy="374.75" r="1.3" fill="#000"/>
<circle cx="234.06" cy="364.2" r="1.3" fill="#000"/>
<polyline points="173.58,376.7 180.06,383.19 186.54,388.06 193.02,390.49 199.5,391.3" fill="none" stroke="#000" stroke-width="1.2" stroke-linejoin="round" stroke-linecap="square"/>
<line x1="199.5" y1="391.3" x2="251.34" y2="391.3" stroke="#222" stroke-width="0.9"/>
<circle cx="180.06" cy="383.19" r="1.3" fill="#000"/>
<circle cx="186.54" cy="388.06" r="1.3" fill="#000"/>
<circle cx="193.02" cy="390.49" r="1.3" fill="#000"/>
<circle cx="199.5" cy="391.3" r="0.9" fill="#000"/>
<circle cx="208.14" cy="391.3" r="0.9" fill="#000"/>
<circle cx="216.78" cy="391.3" r="0.9" fill="#000"/>
<circle cx="225.42" cy="391.3" r="0.9" fill="#000"/>
<circle cx="234.06" cy="391.3" r="0.9" fill="#000"/>
<circle cx="242.7" cy="391.3" r="0.9" fill="#000"/>
<circle cx="251.34" cy="391.3" r="0.9" fill="#000"/>
<polyline points="173.58,378.32 180.06,379.13 186.54,376.21 193.02,375.89 199.5,375.07" fill="none" stroke="#000" stroke-width="1.2" stroke-linejoin="round" stroke-linecap="square"/>
<circle cx="180.06" cy="379.13" r="1.3" fill="#000"/>
<circle cx="186.54" cy="376.21" r="1.3" fill="#000"/>
<circle cx="193.02" cy="375.89" r="1.3" fill="#000"/>
<circle cx="199.5" cy="375.07" r="1.3" fill="#000"/>
</g>
<line x1="272.3" y1="325.6" x2="272.3" y2="391.8" stroke="#a8a8a8" stroke-width="1"/>
<line x1="271.8" y1="391.3" x2="378.8" y2="391.3" stroke="#a8a8a8" stroke-width="1"/>
<line x1="270.3" y1="391.3" x2="272.3" y2="391.3" stroke="#a8a8a8" stroke-width="0.9"/>
<text x="269.6" y="393" font-size="4.8" font-weight="bold" text-anchor="end" fill="#000" textLength="2.8" lengthAdjust="spacingAndGlyphs" stroke="#000" stroke-width="0.3">0</text>
<line x1="270.3" y1="374.95" x2="272.3" y2="374.95" stroke="#a8a8a8" stroke-width="0.9"/>
<text x="269.6" y="376.65" font-size="4.8" font-weight="bold" text-anchor="end" fill="#000" textLength="8.4" lengthAdjust="spacingAndGlyphs" stroke="#000" stroke-width="0.3">100</text>
<line x1="270.3" y1="358.6" x2="272.3" y2="358.6" stroke="#a8a8a8" stroke-width="0.9"/>
<text x="269.6" y="360.3" font-size="4.8" font-weight="bold" text-anchor="end" fill="#000" textLength="8.4" lengthAdjust="spacingAndGlyphs" stroke="#000" stroke-width="0.3">200</text>
<line x1="270.3" y1="342.25" x2="272.3" y2="342.25" stroke="#a8a8a8" stroke-width="0.9"/>
<text x="269.6" y="343.95" font-size="4.8" font-weight="bold" text-anchor="end" fill="#000" textLength="8.4" lengthAdjust="spacingAndGlyphs" stroke="#000" stroke-width="0.3">300</text>
<line x1="270.3" y1="325.9" x2="272.3" y2="325.9" stroke="#a8a8a8" stroke-width="0.9"/>
<text x="269.6" y="327.6" font-size="4.8" font-weight="bold" text-anchor="end" fill="#000" textLength="8.4" lengthAdjust="spacingAndGlyphs" stroke="#000" stroke-width="0.3">400</text>
<line x1="272.3" y1="391.3" x2="272.3" y2="393.3" stroke="#a8a8a8" stroke-width="0.9"/>
<text x="272.3" y="398.6" font-size="4.8" font-weight="bold" text-anchor="middle" fill="#000" textLength="2.8" lengthAdjust="spacingAndGlyphs" stroke="#000" stroke-width="0.3">0</text>
<line x1="293.6" y1="391.3" x2="293.6" y2="393.3" stroke="#a8a8a8" stroke-width="0.9"/>
<text x="293.6" y="398.6" font-size="4.8" font-weight="bold" text-anchor="middle" fill="#000" textLength="5.6" lengthAdjust="spacingAndGlyphs" stroke="#000" stroke-width="0.3">10</text>
<line x1="314.9" y1="391.3" x2="314.9" y2="393.3" stroke="#a8a8a8" stroke-width="0.9"/>
<text x="314.9" y="398.6" font-size="4.8" font-weight="bold" text-anchor="middle" fill="#000" textLength="5.6" lengthAdjust="spacingAndGlyphs" stroke="#000" stroke-width="0.3">20</text>
<line x1="336.2" y1="391.3" x2="336.2" y2="393.3" stroke="#a8a8a8" stroke-width="0.9"/>
<text x="336.2" y="398.6" font-size="4.8" font-weight="bold" text-anchor="middle" fill="#000" textLength="5.6" lengthAdjust="spacingAndGlyphs" stroke="#000" stroke-width="0.3">30</text>
<line x1="357.5" y1="391.3" x2="357.5" y2="393.3" stroke="#a8a8a8" stroke-width="0.9"/>
<text x="357.5" y="398.6" font-size="4.8" font-weight="bold" text-anchor="middle" fill="#000" textLength="5.6" lengthAdjust="spacingAndGlyphs" stroke="#000" stroke-width="0.3">40</text>
<line x1="378.8" y1="391.3" x2="378.8" y2="393.3" stroke="#a8a8a8" stroke-width="0.9"/>
<text x="378.8" y="398.6" font-size="4.8" font-weight="bold" text-anchor="middle" fill="#000" textLength="5.6" lengthAdjust="spacingAndGlyphs" stroke="#000" stroke-width="0.3">50</text>
<text x="287.7" y="406.3" font-size="5.8" font-weight="bold" text-anchor="start" fill="#000" textLength="74.8" lengthAdjust="spacingAndGlyphs" stroke="#000" stroke-width="0.3">Days after tumor challenge</text>
<text transform="translate(257.2,359) rotate(-90)" font-size="5.6" font-weight="bold" text-anchor="middle" textLength="41.3" lengthAdjust="spacingAndGlyphs" stroke="#000" stroke-width="0.3">Tumor size(mm<tspan dy="-2" font-size="3.8">2</tspan><tspan dy="2">)</tspan></text>
<text x="299.4" y="318.6" font-size="6.5" font-weight="bold" text-anchor="start" fill="#000" textLength="52.5" lengthAdjust="spacingAndGlyphs" stroke="#000" stroke-width="0.3">Vehicle+ αOX40</text>
<polyline points="289.34,378.22 295.73,374.95 302.12,368.41 308.51,360.24 317.03,350.43 323.42,342.25 331.94,325.9" fill="none" stroke="#000" stroke-width="1.2" stroke-linejoin="round" stroke-linecap="square"/>
<circle cx="302.12" cy="368.41" r="1.3" fill="#000"/>
<circle cx="308.51" cy="360.24" r="1.3" fill="#000"/>
<circle cx="317.03" cy="350.43" r="1.3" fill="#000"/>
<circle cx="323.42" cy="342.25" r="1.3" fill="#000"/>
<circle cx="331.94" cy="325.9" r="1.3" fill="#000"/>
<polyline points="289.34,377.4 295.73,375.77 302.12,374.13 308.51,372.99 314.9,366.28 323.42,354.35 331.94,349.28 340.46,339.8" fill="none" stroke="#000" stroke-width="1.2" stroke-linejoin="round" stroke-linecap="square"/>
<circle cx="302.12" cy="374.13" r="1.3" fill="#000"/>
<circle cx="308.51" cy="372.99" r="1.3" fill="#000"/>
<circle cx="314.9" cy="366.28" r="1.3" fill="#000"/>
<circle cx="323.42" cy="354.35" r="1.3" fill="#000"/>
<circle cx="331.94" cy="349.28" r="1.3" fill="#000"/>
<circle cx="340.46" cy="339.8" r="1.3" fill="#000"/>
<polyline points="289.34,376.58 295.73,371.68 302.12,355.98 308.51,348.95 314.9,342.41" fill="none" stroke="#000" stroke-width="1.2" stroke-linejoin="round" stroke-linecap="square"/>
<circle cx="302.12" cy="355.98" r="1.3" fill="#000"/>
<circle cx="308.51" cy="348.95" r="1.3" fill="#000"/>
<circle cx="314.9" cy="342.41" r="1.3" fill="#000"/>
<polyline points="289.34,379.04 295.73,373.31 302.12,363.5 308.51,353.69 317.03,345.52 323.42,338.65" fill="none" stroke="#000" stroke-width="1.2" stroke-linejoin="round" stroke-linecap="square"/>
<circle cx="302.12" cy="363.5" r="1.3" fill="#000"/>
<circle cx="308.51" cy="353.69" r="1.3" fill="#000"/>
<circle cx="317.03" cy="345.52" r="1.3" fill="#000"/>
<circle cx="323.42" cy="338.65" r="1.3" fill="#000"/>
<polyline points="289.34,378.22 295.73,374.95 302.12,370.05 308.51,361.87 317.03,352.06 323.42,339.8" fill="none" stroke="#000" stroke-width="1.2" stroke-linejoin="round" stroke-linecap="square"/>
<circle cx="302.12" cy="370.05" r="1.3" fill="#000"/>
<circle cx="308.51" cy="361.87" r="1.3" fill="#000"/>
<circle cx="317.03" cy="352.06" r="1.3" fill="#000"/>
<circle cx="323.42" cy="339.8" r="1.3" fill="#000"/>
<polyline points="289.34,377.4 295.73,374.13 302.12,371.68 308.51,365.14 317.03,358.6 323.42,358.6" fill="none" stroke="#000" stroke-width="1.2" stroke-linejoin="round" stroke-linecap="square"/>
<circle cx="302.12" cy="371.68" r="1.3" fill="#000"/>
<circle cx="308.51" cy="365.14" r="1.3" fill="#000"/>
<circle cx="317.03" cy="358.6" r="1.3" fill="#000"/>
<circle cx="323.42" cy="358.6" r="1.3" fill="#000"/>
<polyline points="289.34,380.67 295.73,381.98 302.12,383.45 308.51,386.39 314.9,389.34 321.29,390.97 323.42,391.3" fill="none" stroke="#000" stroke-width="1.2" stroke-linejoin="round" stroke-linecap="square"/>
<line x1="323.42" y1="391.3" x2="348.98" y2="391.3" stroke="#888" stroke-width="0.9"/>
<circle cx="323.42" cy="391.3" r="1.1" fill="#000"/>
<circle cx="331.94" cy="391.3" r="1.1" fill="#000"/>
<circle cx="340.46" cy="391.3" r="1.1" fill="#000"/>
<circle cx="348.98" cy="391.3" r="1.1" fill="#000"/>
<polyline points="289.34,376.91 295.73,377.57 302.12,378.55 308.51,381.49 314.9,386.39 321.29,391.3" fill="none" stroke="#000" stroke-width="1.2" stroke-linejoin="round" stroke-linecap="square"/>
<circle cx="321.29" cy="391.3" r="1.1" fill="#000"/>
<circle cx="378.8" cy="391.3" r="1.1" fill="#000"/>
<line x1="410.3" y1="323.7" x2="410.3" y2="390" stroke="#a8a8a8" stroke-width="1"/>
<line x1="409.8" y1="389.5" x2="516.3" y2="389.5" stroke="#a8a8a8" stroke-width="1"/>
<line x1="408.3" y1="389.5" x2="410.3" y2="389.5" stroke="#a8a8a8" stroke-width="0.9"/>
<text x="407.6" y="391.2" font-size="4.8" font-weight="bold" text-anchor="end" fill="#000" textLength="2.8" lengthAdjust="spacingAndGlyphs" stroke="#000" stroke-width="0.3">0</text>
<line x1="408.3" y1="373.12" x2="410.3" y2="373.12" stroke="#a8a8a8" stroke-width="0.9"/>
<text x="407.6" y="374.82" font-size="4.8" font-weight="bold" text-anchor="end" fill="#000" textLength="8.4" lengthAdjust="spacingAndGlyphs" stroke="#000" stroke-width="0.3">100</text>
<line x1="408.3" y1="356.75" x2="410.3" y2="356.75" stroke="#a8a8a8" stroke-width="0.9"/>
<text x="407.6" y="358.45" font-size="4.8" font-weight="bold" text-anchor="end" fill="#000" textLength="8.4" lengthAdjust="spacingAndGlyphs" stroke="#000" stroke-width="0.3">200</text>
<line x1="408.3" y1="340.38" x2="410.3" y2="340.38" stroke="#a8a8a8" stroke-width="0.9"/>
<text x="407.6" y="342.07" font-size="4.8" font-weight="bold" text-anchor="end" fill="#000" textLength="8.4" lengthAdjust="spacingAndGlyphs" stroke="#000" stroke-width="0.3">300</text>
<line x1="408.3" y1="324" x2="410.3" y2="324" stroke="#a8a8a8" stroke-width="0.9"/>
<text x="407.6" y="325.7" font-size="4.8" font-weight="bold" text-anchor="end" fill="#000" textLength="8.4" lengthAdjust="spacingAndGlyphs" stroke="#000" stroke-width="0.3">400</text>
<line x1="410.3" y1="389.5" x2="410.3" y2="391.5" stroke="#a8a8a8" stroke-width="0.9"/>
<text x="410.3" y="396.8" font-size="4.8" font-weight="bold" text-anchor="middle" fill="#000" textLength="2.8" lengthAdjust="spacingAndGlyphs" stroke="#000" stroke-width="0.3">0</text>
<line x1="431.5" y1="389.5" x2="431.5" y2="391.5" stroke="#a8a8a8" stroke-width="0.9"/>
<text x="431.5" y="396.8" font-size="4.8" font-weight="bold" text-anchor="middle" fill="#000" textLength="5.6" lengthAdjust="spacingAndGlyphs" stroke="#000" stroke-width="0.3">10</text>
<line x1="452.7" y1="389.5" x2="452.7" y2="391.5" stroke="#a8a8a8" stroke-width="0.9"/>
<text x="452.7" y="396.8" font-size="4.8" font-weight="bold" text-anchor="middle" fill="#000" textLength="5.6" lengthAdjust="spacingAndGlyphs" stroke="#000" stroke-width="0.3">20</text>
<line x1="473.9" y1="389.5" x2="473.9" y2="391.5" stroke="#a8a8a8" stroke-width="0.9"/>
<text x="473.9" y="396.8" font-size="4.8" font-weight="bold" text-anchor="middle" fill="#000" textLength="5.6" lengthAdjust="spacingAndGlyphs" stroke="#000" stroke-width="0.3">30</text>
<line x1="495.1" y1="389.5" x2="495.1" y2="391.5" stroke="#a8a8a8" stroke-width="0.9"/>
<text x="495.1" y="396.8" font-size="4.8" font-weight="bold" text-anchor="middle" fill="#000" textLength="5.6" lengthAdjust="spacingAndGlyphs" stroke="#000" stroke-width="0.3">40</text>
<line x1="516.3" y1="389.5" x2="516.3" y2="391.5" stroke="#a8a8a8" stroke-width="0.9"/>
<text x="516.3" y="396.8" font-size="4.8" font-weight="bold" text-anchor="middle" fill="#000" textLength="5.6" lengthAdjust="spacingAndGlyphs" stroke="#000" stroke-width="0.3">50</text>
<text x="425.8" y="404.5" font-size="5.8" font-weight="bold" text-anchor="start" fill="#000" textLength="75.4" lengthAdjust="spacingAndGlyphs" stroke="#000" stroke-width="0.3">Days after tumor challenge</text>
<text transform="translate(394.6,356.5) rotate(-90)" font-size="5.6" font-weight="bold" text-anchor="middle" textLength="43" lengthAdjust="spacingAndGlyphs" stroke="#000" stroke-width="0.3">Tumor size(mm<tspan dy="-2" font-size="3.8">2</tspan><tspan dy="2">)</tspan></text>
<text x="435.3" y="316.7" font-size="6.5" font-weight="bold" text-anchor="start" fill="#000" textLength="56.6" lengthAdjust="spacingAndGlyphs" stroke="#000" stroke-width="0.3">Dasatinib+αOX40</text>
<polyline points="427.26,376.4 433.62,378.04 439.98,379.68 446.34,380.49 452.7,380.66 461.18,381.8 469.66,377.87 478.14,367.07 486.62,361.83 495.1,356.91" fill="none" stroke="#000" stroke-width="1.2" stroke-linejoin="round" stroke-linecap="square"/>
<circle cx="433.62" cy="378.04" r="1.3" fill="#000"/>
<circle cx="439.98" cy="379.68" r="1.3" fill="#000"/>
<circle cx="446.34" cy="380.49" r="1.3" fill="#000"/>
<circle cx="452.7" cy="380.66" r="1.3" fill="#000"/>
<circle cx="461.18" cy="381.8" r="1.3" fill="#000"/>
<circle cx="469.66" cy="377.87" r="1.3" fill="#000"/>
<circle cx="478.14" cy="367.07" r="1.3" fill="#000"/>
<circle cx="486.62" cy="361.83" r="1.3" fill="#000"/>
<circle cx="495.1" cy="356.91" r="1.3" fill="#000"/>
<polyline points="427.26,373.94 433.62,377.22 439.98,378.86 446.34,379.68 452.7,379.84 461.18,377.22 469.66,374.93 478.14,373.12" fill="none" stroke="#000" stroke-width="1.2" stroke-linejoin="round" stroke-linecap="square"/>
<circle cx="433.62" cy="377.22" r="1.3" fill="#000"/>
<circle cx="439.98" cy="378.86" r="1.3" fill="#000"/>
<circle cx="446.34" cy="379.68" r="1.3" fill="#000"/>
<circle cx="452.7" cy="379.84" r="1.3" fill="#000"/>
<circle cx="461.18" cy="377.22" r="1.3" fill="#000"/>
<circle cx="469.66" cy="374.93" r="1.3" fill="#000"/>
<circle cx="478.14" cy="373.12" r="1.3" fill="#000"/>
<polyline points="425.78,374.93 432.35,372.47 439.98,373.94 446.34,375.58 452.06,377.38 460.12,388.85 469.66,387.37 478.14,389.5" fill="none" stroke="#000" stroke-width="1.2" stroke-linejoin="round" stroke-linecap="square"/>
<line x1="478.14" y1="389.5" x2="495.1" y2="389.5" stroke="#888" stroke-width="0.9"/>
<circle cx="432.35" cy="372.47" r="1.3" fill="#000"/>
<circle cx="439.98" cy="373.94" r="1.3" fill="#000"/>
<circle cx="446.34" cy="375.58" r="1.3" fill="#000"/>
<circle cx="452.06" cy="377.38" r="1.3" fill="#000"/>
<circle cx="460.12" cy="388.85" r="1.3" fill="#000"/>
<circle cx="469.66" cy="387.37" r="1.3" fill="#000"/>
<circle cx="478.14" cy="389.5" r="1.2" fill="#000"/>
<circle cx="486.62" cy="389.5" r="1.2" fill="#000"/>
<circle cx="495.1" cy="389.5" r="1.2" fill="#000"/>
<polyline points="427.26,377.22 433.62,381.31 439.98,380.49 446.34,382.95 454.82,384.59 461.18,389.5" fill="none" stroke="#000" stroke-width="1.2" stroke-linejoin="round" stroke-linecap="square"/>
<circle cx="433.62" cy="381.31" r="1.3" fill="#000"/>
<circle cx="439.98" cy="380.49" r="1.3" fill="#000"/>
<circle cx="446.34" cy="382.95" r="1.3" fill="#000"/>
<circle cx="454.82" cy="384.59" r="1.3" fill="#000"/>
<circle cx="461.18" cy="389.5" r="1.2" fill="#000"/>
<polyline points="427.26,379.68 433.62,382.95 439.98,384.59 446.34,386.23 454.82,387.86 461.18,388.68 469.66,389.5" fill="none" stroke="#000" stroke-width="1.2" stroke-linejoin="round" stroke-linecap="square"/>
<circle cx="433.62" cy="382.95" r="1.3" fill="#000"/>
<circle cx="439.98" cy="384.59" r="1.3" fill="#000"/>
<circle cx="446.34" cy="386.23" r="1.3" fill="#000"/>
<circle cx="454.82" cy="387.86" r="1.3" fill="#000"/>
<circle cx="461.18" cy="388.68" r="1.3" fill="#000"/>
<circle cx="469.66" cy="389.5" r="1.2" fill="#000"/>
<polyline points="427.26,378.04 433.62,378.86 439.98,378.04 446.34,379.68 454.82,382.95 461.18,389.5" fill="none" stroke="#000" stroke-width="1.2" stroke-linejoin="round" stroke-linecap="square"/>
<circle cx="433.62" cy="378.86" r="1.3" fill="#000"/>
<circle cx="439.98" cy="378.04" r="1.3" fill="#000"/>
<circle cx="446.34" cy="379.68" r="1.3" fill="#000"/>
<circle cx="454.82" cy="382.95" r="1.3" fill="#000"/>
<circle cx="461.18" cy="389.5" r="1.2" fill="#000"/>
<polyline points="427.26,375.58 433.62,379.68 439.98,382.95 446.34,384.59 454.82,387.04 461.18,389.5" fill="none" stroke="#000" stroke-width="1.2" stroke-linejoin="round" stroke-linecap="square"/>
<circle cx="433.62" cy="379.68" r="1.3" fill="#000"/>
<circle cx="439.98" cy="382.95" r="1.3" fill="#000"/>
<circle cx="446.34" cy="384.59" r="1.3" fill="#000"/>
<circle cx="454.82" cy="387.04" r="1.3" fill="#000"/>
<circle cx="461.18" cy="389.5" r="1.2" fill="#000"/>
<circle cx="516.3" cy="389.5" r="1.2" fill="#000"/>
<text x="19.9" y="453.2" font-size="10.6" font-weight="bold" text-anchor="start" fill="#000" stroke="#000" stroke-width="0.45">E</text>
<line x1="36.8" y1="479.9" x2="36.8" y2="591.25" stroke="#000" stroke-width="1.4"/>
<line x1="36.05" y1="590.5" x2="180.2" y2="590.5" stroke="#000" stroke-width="1.4"/>
<line x1="34" y1="590.5" x2="36.8" y2="590.5" stroke="#000" stroke-width="1.3"/>
<text x="32.9" y="593.6" font-size="8.6" font-weight="bold" text-anchor="end" fill="#000" textLength="3.8" lengthAdjust="spacingAndGlyphs" stroke="#000" stroke-width="0.3">0</text>
<line x1="34" y1="568.5" x2="36.8" y2="568.5" stroke="#000" stroke-width="1.3"/>
<text x="32.9" y="571.6" font-size="8.6" font-weight="bold" text-anchor="end" fill="#000" textLength="7.6" lengthAdjust="spacingAndGlyphs" stroke="#000" stroke-width="0.3">20</text>
<line x1="34" y1="546.5" x2="36.8" y2="546.5" stroke="#000" stroke-width="1.3"/>
<text x="32.9" y="549.6" font-size="8.6" font-weight="bold" text-anchor="end" fill="#000" textLength="7.6" lengthAdjust="spacingAndGlyphs" stroke="#000" stroke-width="0.3">40</text>
<line x1="34" y1="524.5" x2="36.8" y2="524.5" stroke="#000" stroke-width="1.3"/>
<text x="32.9" y="527.6" font-size="8.6" font-weight="bold" text-anchor="end" fill="#000" textLength="7.6" lengthAdjust="spacingAndGlyphs" stroke="#000" stroke-width="0.3">60</text>
<line x1="34" y1="502.5" x2="36.8" y2="502.5" stroke="#000" stroke-width="1.3"/>
<text x="32.9" y="505.6" font-size="8.6" font-weight="bold" text-anchor="end" fill="#000" textLength="7.6" lengthAdjust="spacingAndGlyphs" stroke="#000" stroke-width="0.3">80</text>
<line x1="34" y1="480.5" x2="36.8" y2="480.5" stroke="#000" stroke-width="1.3"/>
<text x="32.9" y="483.6" font-size="8.6" font-weight="bold" text-anchor="end" fill="#000" textLength="11.4" lengthAdjust="spacingAndGlyphs" stroke="#000" stroke-width="0.3">100</text>
<line x1="36.8" y1="590.5" x2="36.8" y2="593.5" stroke="#000" stroke-width="1.3"/>
<text x="36.8" y="602.3" font-size="8.6" font-weight="bold" text-anchor="middle" fill="#000" textLength="3.8" lengthAdjust="spacingAndGlyphs" stroke="#000" stroke-width="0.3">0</text>
<line x1="72.5" y1="590.5" x2="72.5" y2="593.5" stroke="#000" stroke-width="1.3"/>
<text x="72.5" y="602.3" font-size="8.6" font-weight="bold" text-anchor="middle" fill="#000" textLength="7.6" lengthAdjust="spacingAndGlyphs" stroke="#000" stroke-width="0.3">10</text>
<line x1="108.2" y1="590.5" x2="108.2" y2="593.5" stroke="#000" stroke-width="1.3"/>
<text x="108.2" y="602.3" font-size="8.6" font-weight="bold" text-anchor="middle" fill="#000" textLength="7.6" lengthAdjust="spacingAndGlyphs" stroke="#000" stroke-width="0.3">20</text>
<line x1="143.9" y1="590.5" x2="143.9" y2="593.5" stroke="#000" stroke-width="1.3"/>
<text x="143.9" y="602.3" font-size="8.6" font-weight="bold" text-anchor="middle" fill="#000" textLength="7.6" lengthAdjust="spacingAndGlyphs" stroke="#000" stroke-width="0.3">30</text>
<line x1="179.6" y1="590.5" x2="179.6" y2="593.5" stroke="#000" stroke-width="1.3"/>
<text x="179.6" y="602.3" font-size="8.6" font-weight="bold" text-anchor="middle" fill="#000" textLength="7.6" lengthAdjust="spacingAndGlyphs" stroke="#000" stroke-width="0.3">40</text>
<text x="57.5" y="614.2" font-size="9" font-weight="bold" text-anchor="start" fill="#000" textLength="100.2" lengthAdjust="spacingAndGlyphs" stroke="#000" stroke-width="0.3">Days after tumor challenge</text>
<text transform="translate(16.4,535.3) rotate(-90)" font-size="8.4" font-weight="bold" text-anchor="middle" textLength="46.3" lengthAdjust="spacingAndGlyphs" stroke="#000" stroke-width="0.3">% Survival</text>
<line x1="36.8" y1="480.5" x2="108.5" y2="480.5" stroke="#000" stroke-width="1.15"/>
<polyline points="108.5,480.5 108.5,480.5 108.5,496.5 115.5,496.5 115.5,511.5 179.5,511.5" fill="none" stroke="#000" stroke-width="1.15" stroke-linejoin="round" stroke-linecap="square"/>
<polyline points="108.5,480.5 108.5,480.5 108.5,529.5 115.5,529.5 115.5,553.5 118.5,553.5 118.5,566.5 129.5,566.5 129.5,578.5 143.5,578.5 143.5,590.5" fill="none" stroke="#000" stroke-width="1.15" stroke-linejoin="round" stroke-linecap="square"/>
<polyline points="97.5,480.5 97.5,480.5 97.5,494.5 115.5,494.5 115.5,521.5 118.5,521.5 118.5,549.5 126.5,549.5 126.5,563.5 129.5,563.5 129.5,576.5 179.5,576.5" fill="none" stroke="#000" stroke-width="1.15" stroke-linejoin="round" stroke-linecap="square"/>
<polyline points="97.5,480.5 97.5,480.5 97.5,492.5 101.5,492.5 101.5,507.5 108.5,507.5 108.5,534.5 115.5,534.5 115.5,561.5 118.5,561.5 118.5,575.5 126.5,575.5 126.5,590.5" fill="none" stroke="#000" stroke-width="1.15" stroke-linejoin="round" stroke-linecap="square"/>
<rect x="106.1" y="494.13" width="4.2" height="4.2" fill="none" stroke="#000" stroke-width="1.1"/>
<rect x="113.24" y="509.86" width="4.2" height="4.2" fill="none" stroke="#000" stroke-width="1.1"/>
<circle cx="108.2" cy="529.34" r="2.2" fill="none" stroke="#000" stroke-width="1.1"/>
<circle cx="115.34" cy="553.87" r="2.2" fill="none" stroke="#000" stroke-width="1.1"/>
<circle cx="118.91" cy="566.08" r="2.2" fill="none" stroke="#000" stroke-width="1.1"/>
<circle cx="129.62" cy="578.29" r="2.2" fill="none" stroke="#000" stroke-width="1.1"/>
<circle cx="143.9" cy="590.5" r="2.2" fill="none" stroke="#000" stroke-width="1.1"/>
<polygon points="97.49,491.61 99.79,495.98 95.19,495.98" fill="#000"/>
<polygon points="115.34,519.11 117.64,523.48 113.04,523.48" fill="#000"/>
<polygon points="118.91,546.61 121.21,550.98 116.61,550.98" fill="#000"/>
<polygon points="126.05,560.36 128.35,564.73 123.75,564.73" fill="#000"/>
<polygon points="129.62,574.11 131.92,578.48 127.32,578.48" fill="#000"/>
<polygon points="97.49,495.35 99.79,490.98 95.19,490.98" fill="#000"/>
<polygon points="101.06,510.09 103.36,505.72 98.76,505.72" fill="#000"/>
<polygon points="108.2,537.15 110.5,532.78 105.9,532.78" fill="#000"/>
<polygon points="115.34,564.54 117.64,560.17 113.04,560.17" fill="#000"/>
<polygon points="118.91,578.51 121.21,574.14 116.61,574.14" fill="#000"/>
<polygon points="126.05,593.14 128.35,588.77 123.75,588.77" fill="#000"/>
<line x1="186.3" y1="487.3" x2="197.1" y2="487.3" stroke="#111" stroke-width="1.5"/>
<circle cx="191.7" cy="487.3" r="2.5" fill="none" stroke="#111" stroke-width="1.1"/>
<text x="203" y="490.1" font-size="8.8" font-weight="normal" text-anchor="start" fill="#000" textLength="44" lengthAdjust="spacingAndGlyphs" stroke="#000" stroke-width="0.3">Vehicle+IgG</text>
<line x1="186.3" y1="500.7" x2="197.1" y2="500.7" stroke="#111" stroke-width="1.5"/>
<rect x="189.4" y="498.4" width="4.6" height="4.6" fill="none" stroke="#111" stroke-width="1.1"/>
<text x="203" y="503.5" font-size="8.8" font-weight="normal" text-anchor="start" fill="#000" textLength="61.2" lengthAdjust="spacingAndGlyphs" stroke="#000" stroke-width="0.3">Dasatinib+αOX40</text>
<line x1="186.3" y1="515" x2="197.1" y2="515" stroke="#111" stroke-width="1.5"/>
<polygon points="191.7,512.36 194,516.73 189.4,516.73" fill="#111"/>
<text x="203" y="517.8" font-size="8.8" font-weight="normal" text-anchor="start" fill="#000" textLength="86.6" lengthAdjust="spacingAndGlyphs" stroke="#000" stroke-width="0.3">Dasatinib+αOX40+αCD4</text>
<line x1="186.3" y1="528.8" x2="197.1" y2="528.8" stroke="#111" stroke-width="1.5"/>
<polygon points="191.7,531.44 194,527.07 189.4,527.07" fill="#111"/>
<text x="203" y="531.6" font-size="8.8" font-weight="normal" text-anchor="start" fill="#000" textLength="87.3" lengthAdjust="spacingAndGlyphs" stroke="#000" stroke-width="0.3">Dasatinib+αOX40+αCD8</text>
</svg></body></html>
